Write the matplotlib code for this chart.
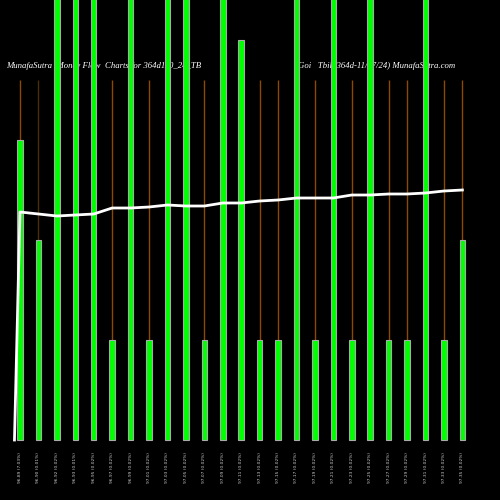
import matplotlib
matplotlib.use("Agg")
import matplotlib.pyplot as plt

bar_vals = [300, 200, 500, 500, 500, 100, 500, 100, 500, 500, 100, 500, 400,
            100, 100, 500, 100, 500, 100, 500, 100, 100, 500, 100, 200]
line_vals = [228, 226, 224, 225, 226, 232, 232, 233, 235, 234, 234, 237, 237,
             239, 240, 242, 242, 242, 245, 245, 246, 246, 247, 249, 250]
labels = ["96.89 (7.03%)", "96.90 (0.01%)", "96.92 (0.02%)", "96.93 (0.01%)",
          "96.95 (0.02%)", "96.97 (0.02%)", "96.99 (0.02%)", "97.01 (0.02%)",
          "97.03 (0.02%)", "97.05 (0.02%)", "97.07 (0.02%)", "97.09 (0.02%)",
          "97.11 (0.02%)", "97.13 (0.02%)", "97.15 (0.02%)", "97.17 (0.02%)",
          "97.19 (0.02%)", "97.21 (0.02%)", "97.23 (0.02%)", "97.25 (0.02%)",
          "97.27 (0.02%)", "97.29 (0.02%)", "97.31 (0.02%)", "97.33 (0.02%)",
          "97.35 (0.02%)"]
orange_top = 360

fig = plt.figure(figsize=(5, 5), dpi=100, facecolor="black")
ax = fig.add_axes([0, 0, 1, 1], facecolor="black")
x = list(range(len(bar_vals)))
for i in x:
    c = "#4a3000" if i == 1 else "#8B4A00"
    ax.vlines(i, 0, orange_top, color=c, lw=1, zorder=1)
ax.bar(x, bar_vals, width=0.3, color="#00ff00", edgecolor="#aaaaaa", lw=0.8, zorder=2)
ax.plot([-0.3] + x, [0] + line_vals, color="white", lw=2, zorder=3)
for i, l in enumerate(labels):
    ax.text(i, -12, l, rotation=90, color="#cccccc", fontsize=3.2, ha="center", va="top")
ax.text(-0.75, 374, "MunafaSutra  Money Flow  Charts for 364d110_24_TB",
        color="white", fontsize=6.3, family="Liberation Serif", style="italic", va="center", zorder=0)
ax.text(15.1, 374, "Goi   Tbill 364d-11/07/24) MunafaSutra.com",
        color="white", fontsize=6.3, family="Liberation Serif", style="italic", va="center", zorder=0)
ax.set_xlim(-1.085, 26.04)
ax.set_ylim(-60, 440)
ax.axis("off")
fig.savefig("out.png", dpi=100, facecolor="black")
